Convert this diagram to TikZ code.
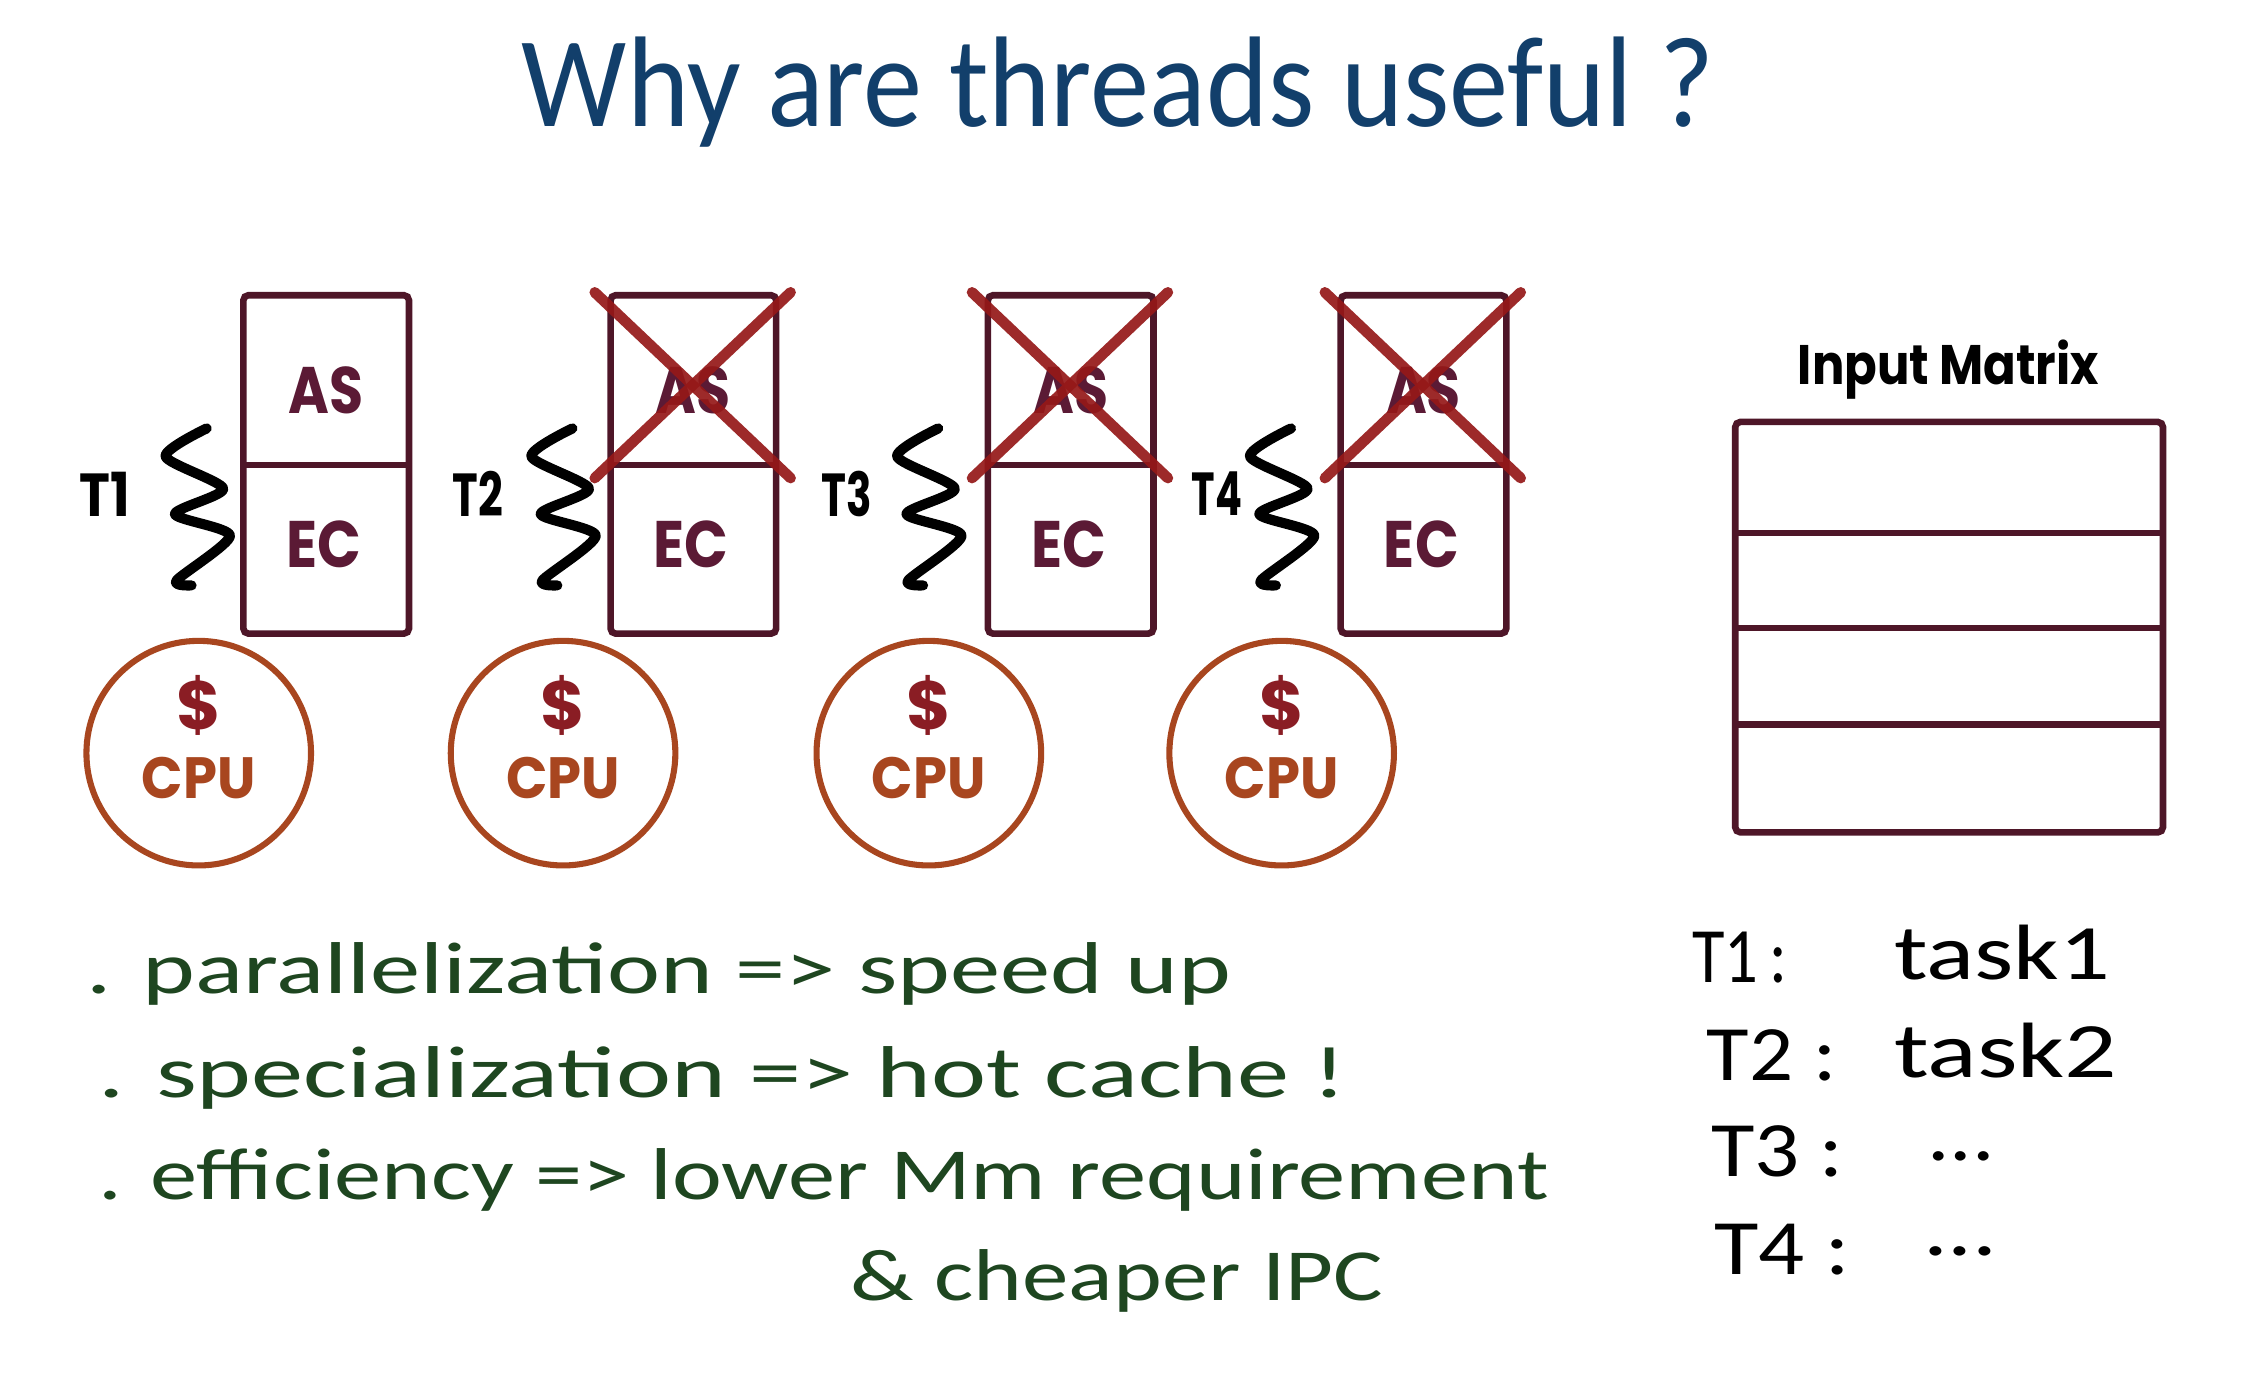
\documentclass[tikz,border=0pt]{standalone}
\usepackage{fontspec}
\usepackage{graphicx}
\setmainfont{Carlito}
\newfontfamily\poppins{Poppins}
\newfontfamily\hand{Carlito}
\newlength\pxu
\setlength\pxu{0.02cm}
\newcommand\fitw[2]{\resizebox{#1\pxu}{\height}{#2}}
\definecolor{boxc}{HTML}{4E1628}
\definecolor{xred}{HTML}{951818}
\definecolor{cpuc}{HTML}{A8461F}
\definecolor{dollarc}{HTML}{8A1D24}
\definecolor{lblc}{HTML}{5B1A35}
\definecolor{titlec}{HTML}{123F6B}
\definecolor{greenc}{HTML}{1E4620}
\tikzset{
  boxline/.style={draw=boxc, line width=2.6pt},
  xline/.style={draw=xred, line width=4.2pt, line cap=round, opacity=0.92},
  cpucircle/.style={circle, draw=cpuc, line width=2.4pt, minimum size=3.12cm, inner sep=0pt},
  squig/.style={draw=black, line width=4pt, line cap=round, line join=round},
  lbltxt/.style={inner sep=0pt, text=lblc, font=\poppins\bfseries\fontsize{26pt}{26pt}\selectfont},
  cputxt/.style={inner sep=0pt, text=cpuc, font=\poppins\bfseries\fontsize{23pt}{23pt}\selectfont},
  dollartxt/.style={inner sep=0pt, text=dollarc, font=\poppins\bfseries\fontsize{27pt}{27pt}\selectfont},
  thrtxt/.style={inner sep=0pt, text=black, font=\poppins\bfseries\fontsize{24pt}{24pt}\selectfont},
  mattxt/.style={inner sep=0pt, text=black, font=\poppins\bfseries\fontsize{22pt}{22pt}\selectfont},
  greentxt/.style={inner sep=0pt, anchor=base west, text=greenc, font=\hand\fontsize{29pt}{29pt}\selectfont},
  blacktxt/.style={inner sep=0pt, anchor=base west, text=black, font=\hand\fontsize{31pt}{31pt}\selectfont},
  titletxt/.style={inner sep=0pt, anchor=base west, text=titlec, font=\hand\fontsize{51pt}{51pt}\selectfont},
}
\begin{document}
\begin{tikzpicture}[x=0.02cm, y=-0.02cm]
\fill[white] (0,0) rectangle (1568,963);
\useasboundingbox (0,0) rectangle (1568,963);

% title
\node[titletxt] (title) at (362,88) {\fitw{828}{Why are threads useful ?}};

% boxes, threads, cpus
\foreach \i/\xl/\cx/\tx/\sx in {1/169/138/73/115, 2/424/391/332/369, 3/686/645/588/623, 4/931/890/845/868}{
  \draw[boxline, rounded corners=2pt] (\xl,205) rectangle (\xl+115,440);
  \draw[boxline] (\xl,323) -- (\xl+115,323);
  \node[lbltxt] (as\i) at (\xl+57.5,271) {\fitw{52}{AS}};
  \node[lbltxt] (ec\i) at (\xl+56,378) {\fitw{52}{EC}};
  \node[thrtxt] (t\i) at (\tx,343) {\fitw{35}{T\i}};
  \draw[squig] plot[smooth, tension=0.45] coordinates {
    (\sx+28.5,297.5) (\sx,317) (\sx+40,339.3) (\sx+6.5,357) (\sx+44.7,372)
    (\sx+7.7,403) (\sx+18,406.5)};
  \node[cpucircle] (cpu\i) at (\cx,523) {};
  \node[dollartxt] (d\i) at (\cx,490) {\$};
  \node[cputxt] (cl\i) at (\cx,540) {\fitw{79}{CPU}};
}
\foreach \xl in {424,686,931}{
  \draw[xline] (\xl-11,203) -- (\xl+125,332);
  \draw[xline] (\xl+125,203) -- (\xl-11,332);
}

% input matrix
\node[mattxt] (imt) at (1353,257) {\fitw{209}{Input Matrix}};
\draw[boxline, rounded corners=2pt] (1205,293) rectangle (1502,578);
\draw[boxline] (1205,370) -- (1502,370);
\draw[boxline] (1205,436) -- (1502,436);
\draw[boxline] (1205,503) -- (1502,503);

% task list
\node[blacktxt] (r1) at (1175,682) {\fitw{66}{T1\,:}};
\node[blacktxt] (k1) at (1315,680) {\fitw{150}{task1}};
\node[blacktxt] (r2) at (1185,750) {\fitw{90}{T2 :}};
\node[blacktxt] (k2) at (1315,748) {\fitw{155}{task2}};
\node[blacktxt] (r3) at (1188,817) {\fitw{92}{T3 :}};
\node[blacktxt] (k3) at (1338,806) {\fitw{47}{...}};
\node[blacktxt] (r4) at (1190,885) {\fitw{94}{T4 :}};
\node[blacktxt] (k4) at (1335,872) {\fitw{52}{...}};

% bullet text
\node[greentxt] (g1) at (60,690) {\fitw{795}{. parallelization => speed up}};
\node[greentxt] (g2) at (68,762) {\fitw{867}{. specialization => hot cache !}};
\node[greentxt] (g3) at (68,833) {\fitw{1007}{. efficiency => lower Mm requirement}};
\node[greentxt] (g4) at (590,903) {\fitw{370}{\& cheaper IPC}};
\end{tikzpicture}
\end{document}
